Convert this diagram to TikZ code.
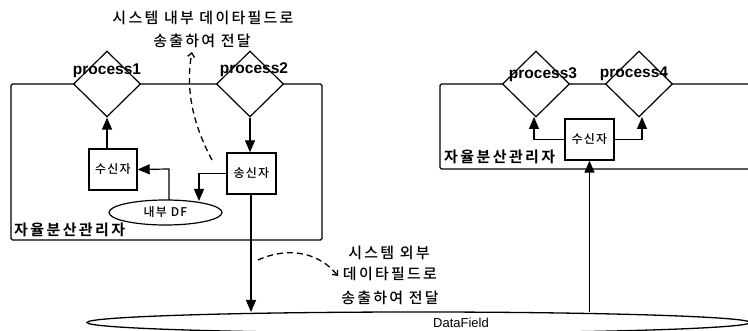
\documentclass[tikz,border=0pt]{standalone}
\usepackage{fontspec}
\setmainfont{Liberation Sans}
\newfontfamily\kor[LetterSpace=15]{Noto Sans CJK KR Medium}
\newfontfamily\korb[LetterSpace=16]{Noto Sans CJK KR Bold}
\newfontfamily\kors[LetterSpace=10]{Noto Sans CJK KR Medium}
\usetikzlibrary{shapes.geometric,arrows.meta}
\tikzset{
 px/.style={x=1pt,y=-1pt},
 frameline/.style={draw=black,line width=1.4pt,rounded corners=1.5pt},
 diam/.style={diamond,draw=black,fill=white,line width=1.2pt,minimum width=67pt,minimum height=66pt,inner sep=0pt,aspect=1},
 plabel/.style={font=\fontsize{15.5}{18}\selectfont\bfseries,inner sep=0pt},
 kbox/.style={rectangle,draw=black,fill=white,line width=1.4pt,inner sep=0pt,font=\kors\fontsize{12}{14}\selectfont},
 ktext/.style={font=\kor\fontsize{15}{17}\selectfont,inner sep=0pt,align=center},
 mgr/.style={font=\korb\fontsize{15}{17}\selectfont,inner sep=0pt,anchor=west},
 flow/.style={draw=black,line width=1.2pt,-{Triangle[length=12pt,width=10pt]}},
 dflow/.style={draw=black,line width=1.3pt,dash pattern=on 6pt off 4pt,-{Straight Barb[length=4pt,width=7pt]}},
}
\begin{document}
\begin{tikzpicture}[px]
\useasboundingbox (0,0) rectangle (748,331);
\clip (0,0) rectangle (748,331);
% left frame
\draw[frameline] (11,84) rectangle (322,240);
% right frame open at the right edge
\draw[frameline] (750,84) -- (440,84) -- (440,169) -- (750,169);
% data field
\node[ellipse,draw=black,line width=1.3pt,fill=white,minimum width=663pt,minimum height=21pt,inner sep=0pt] (df) at (418.5,322.5) {};
\node[font=\fontsize{13}{15}\selectfont,inner sep=0pt,anchor=west] (dft) at (433,323) {DataField};
% diamonds
\node[diam] (p1) at (107,84) {};
\node[diam] (p2) at (250,84) {};
\node[diam] (p3) at (536,84) {};
\node[diam] (p4) at (639,84) {};
\node[plabel] (l1) at (107,71) {process1};
\node[plabel] (l2) at (254,70) {process2};
\node[plabel] (l3) at (543,75) {process3};
\node[plabel] (l4) at (634,74) {process4};
% boxes
\node[kbox,minimum width=48pt,minimum height=41pt] (rx1) at (113,169.5) {수신자};
\node[kbox,minimum width=49pt,minimum height=41pt] (tx) at (251.5,173.5) {송신자};
\node[kbox,minimum width=49pt,minimum height=41pt] (rx2) at (589.5,139.5) {수신자};
\node[ellipse,draw=black,fill=white,line width=1.2pt,minimum width=113pt,minimum height=25pt,inner sep=0pt,font=\kors\fontsize{12}{14}\selectfont] (idf) at (165.5,212.5) {내부 DF};
\node[mgr] (m1) at (14,230) {자율분산관리자};
\node[mgr] (m2) at (444,157) {자율분산관리자};
% connectors
\draw[flow] (rx1.north -| p1) -- (p1.south);
\draw[flow] (p2.south) -- (p2.south |- tx.north);
\coordinate (idfa) at (169,200);
\draw[flow] (idfa) -- (169,169) -- (rx1.east);
\coordinate (idfb) at (199,201);
\draw[flow] (tx.west) -- (199,173.5) -- (idfb);
\coordinate (dfa) at (251,312);
\draw[flow] (tx.south -| dfa) -- (dfa);
\coordinate (dfb) at (589.5,312);
\draw[flow] (dfb) -- (rx2.south);
\coordinate (p3s) at (534,117);
\coordinate (p4s) at (642,117);
\draw[flow] (rx2.west) -- (534,139.5) -- (p3s);
\draw[flow] (rx2.east) -- (642,139.5) -- (p4s);
% dashed
\coordinate (d1s) at (212,160);
\coordinate (d1e) at (192,52);
\draw[dflow] (d1s) .. controls (197,132) and (184,95) .. (d1e);
\coordinate (d2s) at (258,260);
\coordinate (d2e) at (338,276);
\draw[dflow] (d2s) .. controls (282,249) and (315,248) .. (d2e);
% texts
\node[ktext] (t1) at (203,18) {시스템 내부 데이타필드로};
\node[ktext] (t2) at (202,41) {송출하여 전달};
\node[ktext] (t3) at (389,253) {시스템 외부};
\node[ktext] (t4) at (390,274) {데이타필드로};
\node[ktext] (t5) at (390,298) {송출하여 전달};
\end{tikzpicture}
\end{document}
